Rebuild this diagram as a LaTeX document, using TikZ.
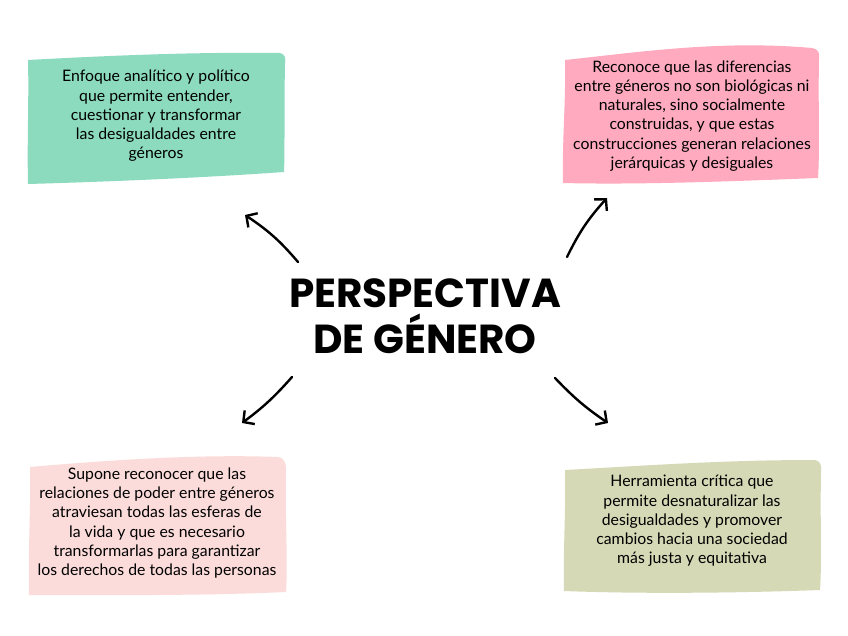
\documentclass[tikz,border=0pt]{standalone}
\usepackage{fontspec}
\setmainfont{Lato}
\newfontfamily\titlefont{Poppins}
\usetikzlibrary{arrows.meta}
\definecolor{cgreen}{HTML}{8CDBBF}
\definecolor{cpink}{HTML}{FFAABF}
\definecolor{clpink}{HTML}{FBDCDA}
\definecolor{colive}{HTML}{D6D9B5}
\tikzset{
  boxtext/.style={align=center, font=\fontsize{15.8}{19.2}\selectfont, text=black, inner sep=0pt},
  conn/.style={line width=2.4pt, line cap=round, -{Straight Barb[length=8pt,width=17pt,line width=2.4pt]}},
}
\begin{document}
\begin{tikzpicture}[x=1pt,y=-1pt]
\useasboundingbox (0,0) rectangle (848,636);
\fill[white] (0,0) rectangle (848,636);
% box shapes
\fill[cgreen] (28,60) .. controls (120,55) and (200,52) .. (280,53)
  .. controls (285,54) and (286,58) .. (285,65)
  .. controls (284,110) and (285,150) .. (284,172)
  .. controls (200,178) and (100,182) .. (28,184)
  .. controls (27,140) and (29,100) .. (28,60) -- cycle;
\fill[cpink] (565,60) .. controls (640,52) and (720,40) .. (812,48)
  .. controls (818,49) and (820,52) .. (819,60)
  .. controls (818,100) and (820,150) .. (818,178)
  .. controls (740,181) and (640,185) .. (563,183)
  .. controls (562,140) and (566,100) .. (565,60) -- cycle;
\fill[clpink] (30,467) .. controls (110,460) and (200,454) .. (278,457)
  .. controls (284,458) and (286,462) .. (286,470)
  .. controls (285,520) and (288,560) .. (286,592)
  .. controls (200,596) and (100,595) .. (29,595)
  .. controls (28,550) and (31,500) .. (30,467) -- cycle;
\fill[colive] (565,470) .. controls (640,466) and (720,460) .. (815,460)
  .. controls (820,461) and (822,465) .. (821,472)
  .. controls (820,520) and (822,560) .. (820,590)
  .. controls (740,593) and (640,594) .. (564,591)
  .. controls (563,550) and (566,510) .. (565,470) -- cycle;
% texts
\node[boxtext] (tl) at (156,116) {Enfoque analítico y político\\que permite entender,\\cuestionar y transformar\\las desigualdades entre\\géneros};
\node[boxtext] (tr) at (692,116) {Reconoce que las diferencias\\entre géneros no son biológicas ni\\naturales, sino socialmente\\construidas, y que estas\\construcciones generan relaciones\\jerárquicas y desiguales};
\node[boxtext] (bl) at (157,523) {Supone reconocer que las\\relaciones de poder entre géneros\\atraviesan todas las esferas de\\la vida y que es necesario\\transformarlas para garantizar\\los derechos de todas las personas};
\node[boxtext] (br) at (692,521) {Herramienta crítica que\\permite desnaturalizar las\\desigualdades y promover\\cambios hacia una sociedad\\más justa y equitativa};
% title
\node[align=center, font=\titlefont\bfseries\fontsize{40.5}{46}\selectfont, inner sep=0pt] (title) at (425,316) {PERSPECTIVA\\DE GÉNERO};
% arrow coordinates
\coordinate (s1) at (298,262); \coordinate (e1) at (245,215);
\coordinate (s2) at (567,257); \coordinate (e2) at (607,198);
\coordinate (s3) at (292,377); \coordinate (e3) at (242,423);
\coordinate (s4) at (555,378); \coordinate (e4) at (608,423);
\draw[conn] (s1) to[bend right=8] (e1);
\draw[conn] (s2) to[bend left=8] (e2);
\draw[conn] (s3) to[bend left=6] (e3);
\draw[conn] (s4) to[bend right=6] (e4);
\end{tikzpicture}
\end{document}
